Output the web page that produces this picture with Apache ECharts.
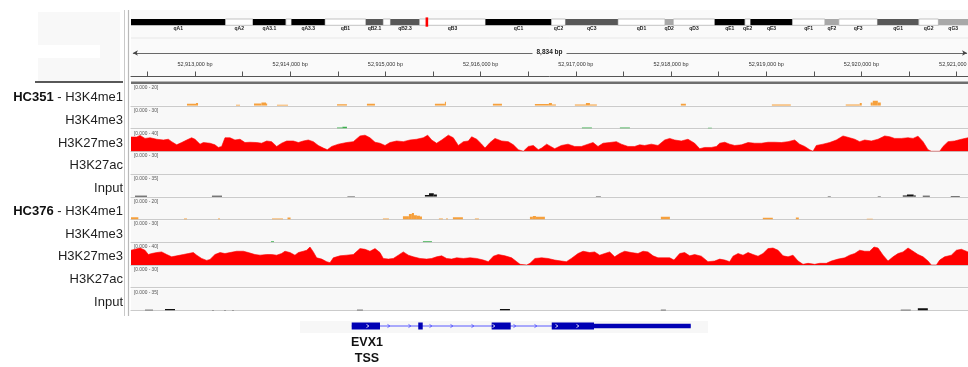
<!DOCTYPE html>
<html lang="en">
<head>
    <meta charset="UTF-8">
    <title>EVX1 locus - histone marks</title>
    <script src="https://cdn.jsdelivr.net/npm/echarts@6.0.0/dist/echarts.min.js"></script>
    <style>
        html, body { margin: 0; padding: 0; background: #fff; }
        #chart { width: 968px; height: 367px; }
    </style>
</head>
<body>
<div id="chart"></div>
<script>
    // view window (bp)
    const viewStart = 52912328;
    const viewEnd = 52921119;
    const rangeLabel = '8,834 bp';
    const tickStep = 500;
    const labelStep = 1000;

    // chromosome ideogram, Mb
    const chromLength = 149.7;
    const cytobands = [
        ['qA1', 0, 16.9, 'gpos100'], ['qA2', 16.9, 21.8, 'gneg'], ['qA3.1', 21.8, 27.7, 'gpos100'],
        ['qA3.2', 27.7, 28.7, 'gneg'], ['qA3.3', 28.7, 34.7, 'gpos100'], ['qB1', 34.7, 42.0, 'gneg'],
        ['qB2.1', 42.0, 45.1, 'gpos75'], ['qB2.2', 45.1, 46.4, 'gneg'], ['qB2.3', 46.4, 51.6, 'gpos75'],
        ['qB3', 51.6, 63.4, 'gneg'], ['qC1', 63.4, 75.2, 'gpos100'], ['qC2', 75.2, 77.7, 'gneg'],
        ['qC3', 77.7, 87.1, 'gpos75'], ['qD1', 87.1, 95.5, 'gneg'], ['qD2', 95.5, 97.0, 'gpos33'],
        ['qD3', 97.0, 104.4, 'gneg'], ['qE1', 104.4, 109.8, 'gpos100'], ['qE2', 109.8, 110.8, 'gneg'],
        ['qE3', 110.8, 118.3, 'gpos100'], ['qF1', 118.3, 124.1, 'gneg'], ['qF2', 124.1, 126.6, 'gpos33'],
        ['qF3', 126.6, 133.5, 'gneg'], ['qG1', 133.5, 140.9, 'gpos75'], ['qG2', 140.9, 144.4, 'gneg'],
        ['qG3', 144.4, 149.7, 'gpos33']
    ];
    const stainColors = { gpos100: '#000000', gpos75: '#585858', gpos33: '#a8a8a8', gneg: '#ffffff' };

    const samples = ['HC351', 'HC376'];
    const marks = ['H3K4me1', 'H3K4me3', 'H3K27me3', 'H3K27ac', 'Input'];
    const dataRanges = [20, 30, 40, 30, 35];
    const markColors = ['#f6a03c', '#3cb04e', '#ff0000', '#2b6fd6', '#111111'];

    // sparse tracks: [start offset, end offset, value], offsets in bp from viewStart
    const hc351K4me1 = [[588, 683, 1.9], [683, 704, 2.5], [1103, 1145, 0.9], [1292, 1370, 2.2], [1370, 1418, 3.0],
        [1418, 1430, 2.0], [1533, 1649, 0.9], [2164, 2268, 1.5], [2478, 2562, 1.9], [3192, 3297, 1.9],
        [3297, 3308, 3.7], [3801, 3896, 1.9], [4242, 4389, 1.6], [4389, 4421, 2.5], [4421, 4463, 1.2],
        [4662, 4778, 1.2], [4778, 4820, 2.5], [4820, 4893, 1.2], [5775, 5828, 1.9], [6731, 6930, 1.2],
        [7507, 7654, 1.2], [7654, 7675, 2.5], [7769, 7791, 3.1], [7791, 7844, 4.7], [7844, 7875, 3.1]];
    const hc351K4me3 = [[2164, 2220, 1.3], [2220, 2268, 2.6], [4736, 4841, 1.3], [5135, 5240, 1.3], [6059, 6101, 1.0]];
    const hc351K27ac = [];
    const hc351Input = [[42, 168, 1.5], [850, 956, 1.5], [2273, 2352, 1.0], [3087, 3130, 3.0], [3130, 3180, 5.5],
        [3180, 3213, 3.5], [4883, 4935, 1.0], [7318, 7350, 0.8], [7843, 7875, 0.8], [8106, 8150, 2.0],
        [8150, 8220, 3.5], [8220, 8243, 2.0], [8316, 8390, 1.5], [8610, 8705, 1.2]];

    const hc376K4me1 = [[0, 77, 2.1], [557, 588, 0.9], [914, 935, 0.9], [1481, 1596, 0.9], [1644, 1676, 1.8],
        [2646, 2709, 0.9], [2856, 2919, 3.0], [2919, 2950, 5.0], [2950, 2972, 6.0], [2972, 3003, 3.9],
        [3003, 3035, 3.5], [3035, 3056, 2.7], [3234, 3276, 0.9], [3308, 3329, 0.9], [3381, 3486, 2.1],
        [3612, 3654, 0.9], [4190, 4221, 2.4], [4221, 4253, 3.3], [4253, 4347, 2.4], [5565, 5660, 2.4],
        [6636, 6741, 1.5], [6983, 7014, 1.8], [7728, 7791, 0.6]];
    const hc376K4me3 = [[1470, 1502, 1.2], [3066, 3161, 1.2]];
    const hc376K27ac = [];
    const hc376Input = [[147, 231, 1.0], [357, 462, 2.5], [851, 872, 0.7], [977, 998, 0.7], [1061, 1082, 0.7],
        [2373, 2436, 1.0], [3875, 3980, 2.5], [5565, 5618, 1.0], [8085, 8190, 1.2], [8264, 8369, 3.5]];

    // dense tracks: [offset, value]
    const hc351K27me3 = [[0, 26], [60, 26], [95, 29], [147, 23.5], [200, 24.7], [270, 22], [340, 20.6], [392, 22],
        [427, 17.6], [480, 11.8], [532, 16], [585, 20.6], [637, 24.7], [672, 22], [725, 13], [760, 16], [830, 14.7],
        [882, 11.8], [917, 7], [952, 8.8], [987, 24.7], [1040, 24.7], [1092, 20.6], [1145, 22], [1197, 16],
        [1250, 16.5], [1320, 16], [1372, 14.7], [1425, 18.8], [1477, 17.6], [1530, 8.8], [1582, 14.7], [1635, 18.8],
        [1705, 18.8], [1758, 16], [1810, 18.8], [1862, 20.6], [1915, 17.6], [1967, 10.6], [2020, 5.9], [2062, 2.9],
        [2108, 8.8], [2178, 13], [2265, 16], [2335, 17.6], [2405, 28], [2458, 29.4], [2510, 24.7], [2563, 16.5],
        [2615, 14.7], [2668, 10.6], [2720, 16], [2790, 18.8], [2860, 17.6], [2930, 20.6], [3000, 22], [3070, 24.7],
        [3116, 29.4], [3158, 20.6], [3210, 14.7], [3263, 20.6], [3333, 29.4], [3385, 24.7], [3438, 10.6],
        [3491, 17.6], [3543, 18.8], [3578, 26.5], [3631, 22], [3683, 13], [3718, 5.9], [3771, 16], [3823, 23.5],
        [3893, 18.8], [3963, 17.6], [4016, 11.8], [4068, 2.9], [4121, 0], [4173, 8.8], [4226, 10.6], [4278, 2.9],
        [4313, 5.9], [4366, 13], [4450, 4.7], [4520, 10.6], [4590, 13], [4660, 8.8], [4730, 8.8], [4800, 13],
        [4853, 16], [4905, 8.8], [4958, 14.7], [5028, 16], [5098, 17.6], [5150, 13], [5220, 8.8], [5290, 8.8],
        [5343, 11.8], [5395, 10.6], [5465, 13], [5535, 10.6], [5605, 20.6], [5658, 23.5], [5710, 20.6],
        [5780, 18.8], [5850, 22], [5920, 14.7], [5973, 4.7], [6025, 7], [6095, 7], [6148, 8.8], [6183, 14.7],
        [6236, 16.5], [6288, 13], [6341, 10.6], [6411, 11.8], [6481, 16], [6551, 14.7], [6621, 14.7],
        [6691, 16.5], [6761, 16.5], [6831, 16], [6901, 17.6], [6971, 20.6], [7023, 13], [7076, 8.8], [7128, 2.9],
        [7163, 0], [7198, 10.6], [7268, 13], [7338, 16], [7408, 20.6], [7478, 28], [7548, 24.7], [7601, 22],
        [7653, 17.6], [7706, 20.6], [7776, 18.8], [7846, 22], [7916, 28], [7969, 26.5], [8021, 23.5],
        [8091, 23.5], [8161, 24.7], [8214, 23.5], [8266, 27.6], [8319, 17.6], [8371, 2.9], [8406, 0], [8494, 0],
        [8529, 8.8], [8581, 17.6], [8651, 18.8], [8721, 22], [8791, 24.7]];
    const hc376K27me3 = [[0, 26.9], [42, 28.7], [95, 31], [147, 26.9], [182, 19.1], [217, 20.9], [270, 22.7],
        [322, 23.9], [375, 19.1], [427, 14.9], [480, 16.7], [550, 19.1], [602, 20.9], [655, 22.7], [690, 17.9],
        [742, 11.9], [795, 8.4], [830, 10.1], [882, 19.1], [935, 22.7], [987, 20.9], [1040, 22.7], [1110, 25.1],
        [1180, 25.1], [1232, 22.7], [1302, 19.1], [1355, 17.9], [1425, 19.1], [1477, 19.1], [1530, 17.9],
        [1582, 20.9], [1617, 25.1], [1670, 22.7], [1722, 17.9], [1758, 22.7], [1810, 25.1], [1845, 26.9],
        [1880, 32.8], [1915, 23.9], [1950, 13.1], [2003, 10.7], [2055, 6], [2090, 4.2], [2125, 13.1],
        [2195, 16.7], [2265, 17.9], [2335, 19.1], [2405, 29.9], [2458, 28.7], [2510, 25.1], [2563, 29.9],
        [2615, 22.7], [2650, 11.9], [2703, 10.7], [2755, 11.9], [2808, 17.9], [2860, 23.9], [2913, 17.9],
        [2965, 14.9], [3035, 11.9], [3105, 10.7], [3158, 11.9], [3210, 14.9], [3263, 16.7], [3315, 11.9],
        [3368, 10.7], [3420, 13.1], [3491, 11.9], [3561, 13.1], [3631, 11.9], [3701, 9], [3753, 6], [3806, 16.1],
        [3858, 19.1], [3928, 16.7], [3998, 13.1], [4051, 6], [4086, 1.2], [4156, 0], [4191, 3], [4243, 11.9],
        [4313, 13.1], [4380, 11.9], [4450, 9], [4520, 7.2], [4573, 6], [4625, 11.9], [4695, 20.9], [4748, 25.1],
        [4818, 22.7], [4870, 23.9], [4923, 17.9], [4975, 20.9], [5028, 23.9], [5080, 14.9], [5133, 20.9],
        [5185, 25.1], [5255, 22.7], [5325, 20.9], [5378, 25.1], [5430, 23.9], [5483, 16.7], [5535, 13.1],
        [5588, 13.1], [5658, 13.1], [5703, 9], [5763, 20.9], [5815, 22.7], [5868, 16.7], [5920, 19.1],
        [5990, 16.1], [6060, 6], [6130, 7.2], [6183, 10.7], [6236, 9], [6288, 6], [6323, 16.1], [6376, 20.9],
        [6428, 17.9], [6481, 22.7], [6533, 19.1], [6586, 16.1], [6638, 20.9], [6691, 29.9], [6743, 31],
        [6796, 26.9], [6848, 16.7], [6901, 14.9], [6953, 17.9], [7006, 7.2], [7058, 1.2], [7111, 3], [7181, 1.2],
        [7233, 3], [7303, 3], [7356, 7.2], [7426, 10.7], [7496, 13.1], [7548, 17.9], [7601, 20.9], [7653, 26.9],
        [7706, 25.1], [7758, 25.1], [7804, 32.8], [7846, 31], [7899, 17.9], [7951, 7.2], [8004, 14.9],
        [8056, 20.9], [8109, 23.9], [8161, 31], [8214, 25.1], [8266, 19.1], [8319, 14.9], [8371, 7.2], [8406, 0],
        [8459, 0], [8494, 9], [8546, 14.9], [8616, 17.9], [8669, 26.9], [8721, 28.7], [8791, 23.9]];

    const signals = [
        [hc351K4me1, hc351K4me3, hc351K27me3, hc351K27ac, hc351Input],
        [hc376K4me1, hc376K4me3, hc376K27me3, hc376K27ac, hc376Input]
    ];

    // gene model, offsets from viewStart
    const geneName = 'EVX1';
    const geneNote = 'TSS';
    const exons = [[2318, 2615], [3017, 3064], [3788, 3988], [4419, 4863]];
    const utr3 = [[4863, 5879]];

    // ---- layout ----
    const FONT = 'Liberation Sans, Arial, sans-serif';
    const panelLeft = 131;
    const rowTop = i => 83.3 + i * 22.74;

    const grids = [];
    const xAxes = [];
    const yAxes = [];
    const series = [];
    const graphics = [];

    function addGrid(g, x, y) {
        grids.push(Object.assign({ left: panelLeft, right: 0, outerBoundsMode: 'none', containLabel: false }, g));
        const idx = grids.length - 1;
        xAxes.push(Object.assign({ gridIndex: idx }, x));
        yAxes.push(Object.assign({ gridIndex: idx }, y));
        return idx;
    }

    // ideogram
    const ideoIdx = addGrid({ top: 19, height: 6.3 },
        { type: 'value', min: 0, max: chromLength, show: false },
        { type: 'value', min: 0, max: 1, show: false });
    let lastLabelRight = -1e9;
    series.push({
        type: 'custom', xAxisIndex: ideoIdx, yAxisIndex: ideoIdx, silent: true,
        data: cytobands.map(b => [b[1], b[2]]),
        renderItem(params, api) {
            const b = cytobands[params.dataIndex];
            if (params.dataIndex === 0) lastLabelRight = -1e9;
            const p0 = api.coord([b[1], 1]);
            const p1 = api.coord([b[2], 0]);
            const children = [{
                type: 'rect',
                shape: { x: p0[0], y: p0[1], width: p1[0] - p0[0], height: p1[1] - p0[1] },
                style: { fill: stainColors[b[3]], stroke: b[3] === 'gneg' ? '#9c9c9c' : null, lineWidth: 0.6 }
            }];
            const cx = (p0[0] + p1[0]) / 2;
            const half = b[0].length * 1.45;
            if (cx - half - lastLabelRight > 6) {
                lastLabelRight = cx + half;
                children.push({
                    type: 'text',
                    style: { text: b[0], x: cx, y: p1[1] + 3, align: 'center', verticalAlign: 'middle',
                        fontSize: 5, fontWeight: 'bold', fontFamily: FONT, fill: '#222' }
                });
            }
            return { type: 'group', children };
        }
    });
    // current-view marker
    series.push({
        type: 'custom', xAxisIndex: ideoIdx, yAxisIndex: ideoIdx, silent: true, z: 5,
        data: [[viewStart / 1e6, viewEnd / 1e6]],
        renderItem(params, api) {
            const a = api.coord([api.value(0), 1]);
            const b = api.coord([api.value(1), 0]);
            const w = Math.max(b[0] - a[0], 2.6);
            const cx = (a[0] + b[0]) / 2;
            return { type: 'rect', shape: { x: cx - w / 2, y: a[1] - 1.6, width: w, height: b[1] - a[1] + 3 },
                style: { fill: '#ff0000' } };
        }
    });

    // ruler
    const tickValues = [];
    const labelValues = [];
    for (let v = Math.ceil(viewStart / tickStep) * tickStep; v <= viewEnd; v += tickStep) {
        tickValues.push(v);
        if (v % labelStep === 0) labelValues.push(v);
    }
    const rulerIdx = addGrid({ top: 38, height: 38.5 },
        {
            type: 'value', min: viewStart, max: viewEnd, position: 'bottom',
            axisLine: { show: true, lineStyle: { color: '#555', width: 1 } },
            axisTick: { show: true, inside: true, length: 5, customValues: tickValues, lineStyle: { color: '#555', width: 1 } },
            axisLabel: {
                show: true, inside: true, margin: 9, customValues: labelValues,
                fontSize: 5.5, color: '#333', fontFamily: FONT,
                formatter: v => Number(v).toLocaleString('en-US') + ' bp'
            },
            splitLine: { show: false }
        },
        { type: 'value', min: 0, max: 1, show: false });
    series.push({
        type: 'line', xAxisIndex: rulerIdx, yAxisIndex: rulerIdx, data: [], silent: true,
        markLine: {
            silent: true, animation: false,
            symbol: ['arrow', 'arrow'], symbolSize: [4, 5],
            lineStyle: { color: '#444', width: 0.8, type: 'solid' },
            label: { show: false },
            data: [[{ coord: [viewStart + 20, 0.61] }, { coord: [viewEnd - 10, 0.61] }]]
        }
    });
    // range label sits on the arrow line, breaking it
    graphics.push({
        type: 'text', x: panelLeft + (968 - panelLeft) / 2, y: 52.5, z: 30,
        style: { text: rangeLabel, align: 'center', verticalAlign: 'middle', fontSize: 6.5, fontWeight: 'bold',
            fontFamily: FONT, fill: '#222', backgroundColor: '#fafafa', padding: [1, 4] }
    });

    // signal tracks
    function intervalItem(params, api) {
        const a = api.coord([api.value(0), api.value(2)]);
        const b = api.coord([api.value(1), 0]);
        return { type: 'rect', shape: { x: a[0], y: a[1], width: Math.max(b[0] - a[0], 1), height: b[1] - a[1] },
            style: { fill: api.visual('color') } };
    }

    samples.forEach((sample, s) => {
        marks.forEach((mark, m) => {
            const row = s * marks.length + m;
            const top = rowTop(row);
            const idx = addGrid({ top: top + 0.6, height: 21.9, show: true, backgroundColor: '#f8f8f8', borderWidth: 0 },
                {
                    type: 'value', min: viewStart, max: viewEnd,
                    axisLine: { show: true, onZero: false, lineStyle: { color: '#cbcbcb', width: 1.2 } },
                    axisTick: { show: false }, axisLabel: { show: false }, splitLine: { show: false }
                },
                { type: 'value', min: 0, max: dataRanges[m], show: false });
            const data = signals[s][m];
            if (mark === 'H3K27me3') {
                series.push({
                    type: 'line', xAxisIndex: idx, yAxisIndex: idx, silent: true, clip: true,
                    symbol: 'none', smooth: false,
                    lineStyle: { color: markColors[m], width: 0.6 },
                    areaStyle: { color: markColors[m], opacity: 1 },
                    data: data.map(d => [viewStart + d[0], d[1]])
                });
            } else {
                series.push({
                    type: 'custom', xAxisIndex: idx, yAxisIndex: idx, silent: true, clip: true,
                    itemStyle: { color: markColors[m] },
                    encode: { x: [0, 1], y: 2 },
                    data: data.map(d => [viewStart + d[0], viewStart + d[1], d[2]]),
                    renderItem: intervalItem
                });
            }
            // row label
            const text = m === 0 ? '{b|' + sample + '} - ' + mark : mark;
            graphics.push({
                type: 'text', x: 123, y: top + 14.3, z: 10,
                style: {
                    text, align: 'right', verticalAlign: 'middle', fontSize: 13, fontFamily: FONT, fill: '#1e1e1e',
                    rich: { b: { fontWeight: 'bold', fontSize: 13, fontFamily: FONT, fill: '#111' } }
                }
            });
            graphics.push({
                type: 'text', x: 134, y: top + 4.4, z: 10,
                style: { text: '[0.000 - ' + dataRanges[m] + ']', verticalAlign: 'middle', fontSize: 4.8,
                    fontFamily: FONT, fill: '#555' }
            });
        });
    });

    // gene track
    const geneIdx = addGrid({ top: 318, height: 16 },
        { type: 'value', min: viewStart, max: viewEnd, show: false },
        { type: 'value', min: 0, max: 1, show: false });
    series.push({
        type: 'custom', xAxisIndex: geneIdx, yAxisIndex: geneIdx, silent: true,
        data: [[viewStart + exons[0][0], viewStart + utr3[utr3.length - 1][1]]],
        renderItem(params, api) {
            const blue = '#0000b4';
            const a = api.coord([api.value(0), 0.5]);
            const b = api.coord([api.value(1), 0.5]);
            const cy = a[1];
            const children = [{ type: 'line', shape: { x1: a[0], y1: cy, x2: b[0], y2: cy },
                style: { stroke: '#5a5aff', lineWidth: 1 } }];
            const blocks = [];
            exons.forEach(e => blocks.push([e, 7]));
            utr3.forEach(e => blocks.push([e, 4.5]));
            blocks.forEach(([e, h]) => {
                const p = api.coord([viewStart + e[0], 0.5]);
                const q = api.coord([viewStart + e[1], 0.5]);
                children.push({ type: 'rect', shape: { x: p[0], y: cy - h / 2, width: Math.max(q[0] - p[0], 1), height: h },
                    style: { fill: blue } });
            });
            // strand chevrons
            const exonPx = exons.map(e => [api.coord([viewStart + e[0], 0])[0], api.coord([viewStart + e[1], 0])[0]]);
            const lastExonEnd = exonPx[exonPx.length - 1][1];
            for (let x = a[0] + 16; x < lastExonEnd; x += 21) {
                const inside = exonPx.some(p => x > p[0] + 1 && x < p[1] - 1);
                children.push({ type: 'polyline', shape: { points: [[x - 1.2, cy - 1.6], [x + 1.2, cy], [x - 1.2, cy + 1.6]] },
                    style: { stroke: inside ? '#ffffff' : '#4a4aff', lineWidth: 0.8, fill: null } });
            }
            return { type: 'group', children };
        }
    });

    // static frame pieces
    graphics.unshift(
        { type: 'rect', z: -1, shape: { x: panelLeft, y: 10, width: 968 - panelLeft, height: 71.5 }, style: { fill: '#fafafa' } },
        { type: 'line', z: -1, shape: { x1: panelLeft, y1: 38, x2: 968, y2: 38 }, style: { stroke: '#e8e8e8', lineWidth: 1 } },
        { type: 'rect', z: -1, shape: { x: 38, y: 12, width: 82, height: 70 }, style: { fill: '#f8f8f8' } },
        { type: 'rect', z: -1, shape: { x: 38, y: 45, width: 62, height: 13 }, style: { fill: '#ffffff' } },
        { type: 'rect', z: -1, shape: { x: 300, y: 321, width: 408, height: 12 }, style: { fill: '#f7f7f7' } },
        { type: 'rect', z: 20, shape: { x: panelLeft, y: 81.6, width: 968 - panelLeft, height: 2.4 }, style: { fill: '#6e6e6e' } },
        { type: 'line', z: 20, shape: { x1: 35, y1: 82, x2: 123, y2: 82 }, style: { stroke: '#222', lineWidth: 1.5 } },
        { type: 'line', z: 20, shape: { x1: 124.5, y1: 10, x2: 124.5, y2: 316 }, style: { stroke: '#c9c9c9', lineWidth: 1 } },
        { type: 'line', z: 20, shape: { x1: 128.5, y1: 10, x2: 128.5, y2: 316 }, style: { stroke: '#b9b9b9', lineWidth: 1.2 } }
    );
    graphics.push(
        { type: 'text', x: 367, y: 342.5, z: 10,
            style: { text: geneName, align: 'center', verticalAlign: 'middle', fontSize: 12.5, fontWeight: 'bold', fontFamily: FONT, fill: '#111' } },
        { type: 'text', x: 367, y: 358.5, z: 10,
            style: { text: geneNote, align: 'center', verticalAlign: 'middle', fontSize: 12.5, fontWeight: 'bold', fontFamily: FONT, fill: '#111' } }
    );

    const chart = echarts.init(document.getElementById('chart'), null, { renderer: 'canvas' });
    chart.setOption({
        animation: false,
        backgroundColor: '#ffffff',
        grid: grids,
        xAxis: xAxes,
        yAxis: yAxes,
        series: series,
        graphic: { elements: graphics }
    });
</script>
</body>
</html>
